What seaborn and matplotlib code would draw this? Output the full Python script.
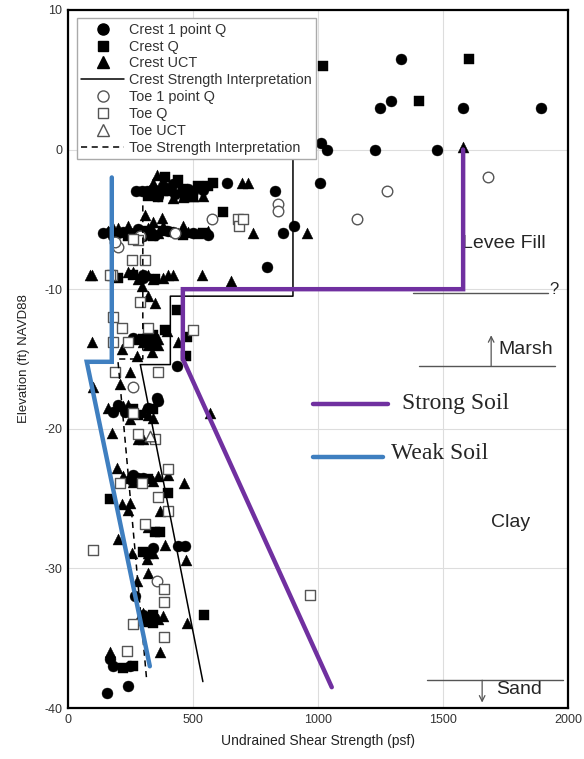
import matplotlib
matplotlib.use("Agg")
import matplotlib.pyplot as plt
import seaborn as sns
from matplotlib.lines import Line2D

# ---- data (psf, elevation ft) ----
crest_1pt_x = [1332, 1248, 1292, 1580, 1892, 1036, 1012, 1228, 1476, 1008, 636, 828,
               272, 296, 316, 380, 430, 480, 860, 904, 168, 200, 250, 330, 400, 460,
               796, 300, 436, 356, 360, 200, 260, 300, 440, 468, 270, 300, 168, 180,
               248, 240, 156, 340, 228,
               340, 360, 420, 500, 540, 140, 180, 220, 280, 300, 350, 420, 500, 560,
               300, 260, 180, 320, 280, 320]
crest_1pt_y = [6.5, 3.0, 3.5, 3.0, 3.0, 0.0, 0.5, 0.0, 0.0, -2.4, -2.4, -3.0,
               -3.0, -3.0, -3.0, -2.6, -3.2, -2.8, -6.0, -5.5, -5.9, -6.0, -6.0, -5.8, -5.8, -6.0,
               -8.4, -9.0, -15.5, -17.8, -18.0, -18.3, -23.3, -23.5, -28.4, -28.4, -32.0, -33.3, -36.5, -37.0,
               -37.0, -38.4, -38.9, -28.5, -18.8,
               -2.8, -3.3, -2.5, -3.0, -2.9, -6.0, -6.2, -5.9, -5.7, -6.2, -6.1, -5.9, -6.0, -6.1,
               -9.2, -13.5, -18.8, -18.5, -23.5, -33.5]

crest_q_x = [1604, 1020, 1404, 620, 440, 520, 580, 360, 300, 540, 260, 350, 436, 388,
             476, 472, 300, 340, 260, 340, 400, 348, 368, 300, 544, 340, 320, 260, 220,
             170, 410, 470, 390,
             380, 460, 500, 560, 320, 240, 340, 460, 380, 200, 340, 280, 320, 340]
crest_q_y = [6.5, 6.0, 3.5, -4.5, -2.2, -2.6, -2.4, -3.4, -5.8, -6.0, -9.0, -9.3, -11.5, -12.9,
             -13.4, -14.8, -13.6, -13.3, -18.6, -18.6, -24.6, -27.4, -27.4, -28.8, -33.3, -33.3, -33.8, -37.0, -37.1,
             -25.0, -3.0, -3.4, -2.0,
             -3.0, -2.8, -3.4, -2.6, -3.3, -6.2, -6.2, -6.1, -5.8, -9.2, -14.0, -19.0, -23.6, -33.9]

crest_uct_x = [1580, 356, 696, 720, 400, 500, 308, 376, 740, 956, 280, 360, 440, 520,
               96, 88, 240, 280, 320, 380, 420, 536, 652, 296, 320, 348, 396, 440, 96,
               280, 320, 360, 216, 276, 336, 248, 208, 100, 220, 300, 568, 176, 280, 300,
               196, 240, 340, 464, 216, 248, 240, 368, 320, 200, 388, 256, 320, 340, 316,
               472, 320, 276, 300, 360, 476, 368, 168, 248, 320, 180, 460, 340,
               340, 420, 460, 540, 160, 200, 240, 320, 380, 480, 560, 260, 340, 400,
               300, 360, 160, 240, 340, 220, 260, 360, 400, 300, 280, 380]
crest_uct_y = [0.2, -1.8, -2.4, -2.4, -2.8, -3.3, -4.7, -4.9, -6.0, -6.0, -6.0, -6.0, -6.0, -6.0,
               -9.0, -9.0, -8.8, -9.3, -9.0, -9.2, -9.0, -9.0, -9.4, -9.8, -10.5, -11.0, -13.0, -13.8, -13.8,
               -13.6, -14.0, -14.0, -14.3, -14.8, -14.5, -15.9, -16.8, -17.0, -18.4, -18.8, -18.9, -20.3, -20.7, -20.7,
               -22.8, -23.5, -23.7, -23.9, -25.4, -25.3, -25.8, -25.9, -27.0, -27.9, -28.3, -28.9, -28.9, -28.9, -29.3,
               -29.4, -30.3, -30.9, -33.6, -33.6, -33.9, -36.0, -36.0, -19.3, -19.0, -5.6, -5.5, -5.2,
               -2.4, -3.5, -3.4, -3.3, -5.8, -5.6, -5.5, -5.6, -5.5, -5.9, -5.8, -8.8, -9.3, -9.0,
               -13.8, -13.6, -18.5, -18.3, -19.2, -23.4, -23.8, -23.4, -23.3, -33.2, -33.7, -33.4]

toe_1pt_x = [1276, 1680, 1156, 840, 840, 576, 428, 200, 260, 356, 290, 190]
toe_1pt_y = [-3.0, -2.0, -5.0, -3.9, -4.4, -5.0, -6.0, -7.0, -17.0, -30.9, -6.2, -6.6]

toe_q_x = [680, 684, 700, 280, 256, 308, 176, 288, 180, 216, 320, 500, 180, 240, 188,
           360, 260, 280, 348, 400, 208, 296, 360, 400, 308, 100, 384, 384, 260, 384,
           236, 968, 170, 260]
toe_q_y = [-5.0, -5.5, -5.0, -6.5, -7.9, -7.9, -9.0, -10.9, -12.0, -12.8, -12.8, -12.9, -13.8, -13.8, -15.9,
           -15.9, -18.9, -20.4, -20.7, -22.9, -23.9, -23.9, -24.9, -25.9, -26.8, -28.7, -31.5, -32.4, -34.0, -34.9,
           -35.9, -31.9, -9.0, -6.4]

toe_uct_x = [330]
toe_uct_y = [-20.5]

# strength interpretations
crest_line_x = [900, 900, 410, 410, 290, 540]
crest_line_y = [1.5, -10.5, -10.5, -15.4, -15.4, -38.1]
toe_line_x = [300, 300, 200, 316]
toe_line_y = [-4.0, -15.0, -15.0, -38.1]

strong_x = [1580, 1580, 460, 460, 1055]
strong_y = [0.0, -10.0, -10.0, -15.0, -38.5]
weak_x = [176, 176, 76, 328]
weak_y = [-2.0, -15.2, -15.2, -37.0]

purple = "#7030a0"
blue = "#3f7fc0"
gray = "#555555"

sns.set_style("whitegrid", {"grid.color": "#dddddd", "axes.edgecolor": "black"})
plt.rcParams["font.family"] = ["Liberation Sans", "DejaVu Sans"]
plt.rcParams["axes.unicode_minus"] = False

fig = plt.figure(figsize=(5.84, 7.59), dpi=100)
ax = fig.add_axes([0.116, 0.067, 0.857, 0.920])

# scatter series
sns.scatterplot(x=crest_1pt_x, y=crest_1pt_y, marker="o", s=62, color="black",
                edgecolor="black", linewidth=0.3, ax=ax, zorder=3)
sns.scatterplot(x=crest_q_x, y=crest_q_y, marker="s", s=42, color="black",
                edgecolor="black", linewidth=0.3, ax=ax, zorder=3)
sns.scatterplot(x=crest_uct_x, y=crest_uct_y, marker="^", s=62, color="black",
                edgecolor="black", linewidth=0.3, ax=ax, zorder=3)
sns.scatterplot(x=toe_1pt_x, y=toe_1pt_y, marker="o", s=58, facecolor="white",
                edgecolor=gray, linewidth=1.0, ax=ax, zorder=3.2)
sns.scatterplot(x=toe_q_x, y=toe_q_y, marker="s", s=50, facecolor="white",
                edgecolor=gray, linewidth=1.0, ax=ax, zorder=3.2)
sns.scatterplot(x=toe_uct_x, y=toe_uct_y, marker="^", s=58, facecolor="white",
                edgecolor=gray, linewidth=1.0, ax=ax, zorder=3.2)

# interpretation lines
ax.plot(crest_line_x, crest_line_y, color="black", lw=1.1, zorder=3.5)
ax.plot(toe_line_x, toe_line_y, color="black", lw=1.1, ls=(0, (4, 3)), zorder=3.5)
ax.plot(strong_x, strong_y, color=purple, lw=3.2, zorder=4, solid_joinstyle="miter")
ax.plot(weak_x, weak_y, color=blue, lw=3.2, zorder=4, solid_joinstyle="miter")

# soil key drawn inside the plot
ax.plot([980, 1280], [-18.2, -18.2], color=purple, lw=3.2, zorder=4)
ax.plot([980, 1260], [-22.0, -22.0], color=blue, lw=3.2, zorder=4)
ax.text(1335, -18.2, "Strong Soil", family=["Liberation Serif", "DejaVu Serif"],
        fontsize=17, va="center", ha="left")
ax.text(1290, -21.8, "Weak Soil", family=["Liberation Serif", "DejaVu Serif"],
        fontsize=17, va="center", ha="left")

# layer boundaries
ax.plot([1380, 1920], [-10.3, -10.3], color=gray, lw=1.0, zorder=2)
ax.text(1925, -10.0, "?", fontsize=12, va="center", ha="left")
ax.plot([1404, 1948], [-15.5, -15.5], color=gray, lw=1.0, zorder=2)
ax.annotate("", xy=(1692, -13.3), xytext=(1692, -15.5),
            arrowprops=dict(arrowstyle="->", color=gray, lw=0.9, shrinkA=0, shrinkB=0))
ax.plot([1436, 1980], [-38.0, -38.0], color=gray, lw=1.0, zorder=2)
ax.annotate("", xy=(1656, -39.6), xytext=(1656, -38.0),
            arrowprops=dict(arrowstyle="->", color=gray, lw=0.9, shrinkA=0, shrinkB=0))

ax.text(1575, -6.7, "Levee Fill", fontsize=14, va="center", ha="left", zorder=1.5)
ax.text(1720, -14.3, "Marsh", fontsize=14, va="center", ha="left")
ax.text(1690, -26.7, "Clay", fontsize=14, va="center", ha="left")
ax.text(1712, -38.7, "Sand", fontsize=14, va="center", ha="left")

ax.set_xlim(0, 2000)
ax.set_ylim(-40, 10)
ax.set_xticks([0, 500, 1000, 1500, 2000])
ax.set_yticks([-40, -30, -20, -10, 0, 10])
ax.tick_params(labelsize=9, colors="#333333", length=0, pad=4)
ax.set_xlabel("Undrained Shear Strength (psf)", fontsize=10, color="#222222", labelpad=6)
ax.set_ylabel("Elevation (ft) NAVD88", fontsize=9.5, color="#222222", labelpad=10)
for sp in ax.spines.values():
    sp.set_color("black")
    sp.set_linewidth(1.6)

handles = [
    Line2D([], [], ls="none", marker="o", ms=8, color="black"),
    Line2D([], [], ls="none", marker="s", ms=7, color="black"),
    Line2D([], [], ls="none", marker="^", ms=8, color="black"),
    Line2D([], [], color="black", lw=1.1),
    Line2D([], [], ls="none", marker="o", ms=8, mfc="white", mec=gray, mew=1.0),
    Line2D([], [], ls="none", marker="s", ms=7.5, mfc="white", mec=gray, mew=1.0),
    Line2D([], [], ls="none", marker="^", ms=8, mfc="white", mec=gray, mew=1.0),
    Line2D([], [], color="black", lw=1.1, ls=(0, (4, 3))),
]
labels = ["Crest 1 point Q", "Crest Q", "Crest UCT", "Crest Strength Interpretation",
          "Toe 1 point Q", "Toe Q", "Toe UCT", "Toe Strength Interpretation"]
leg = ax.legend(handles, labels, loc="upper left", bbox_to_anchor=(0.012, 0.992),
                fontsize=10.4, frameon=True, fancybox=False, framealpha=1,
                edgecolor="#aaaaaa", borderpad=0.3, labelspacing=0.2,
                handlelength=3.0, handletextpad=0.3, borderaxespad=0.2)
leg.set_zorder(10)
leg.get_frame().set_linewidth(1.0)
for t in leg.get_texts():
    t.set_color("#333333")

fig.savefig("out.png", dpi=100)
